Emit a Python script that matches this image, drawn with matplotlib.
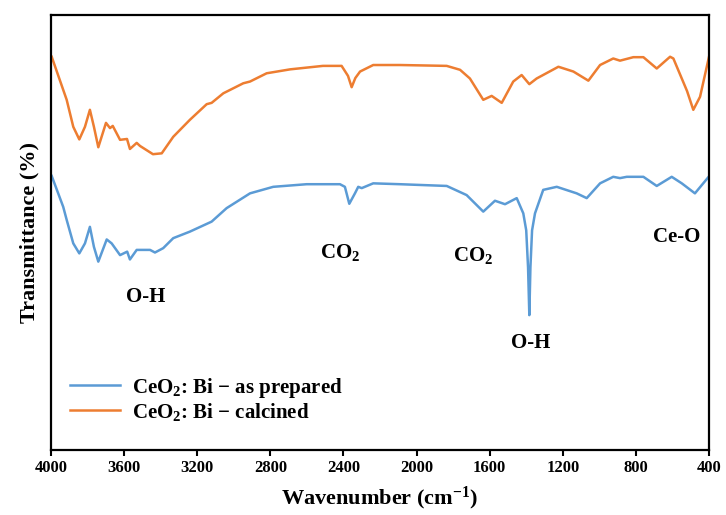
import matplotlib
matplotlib.use("Agg")
import matplotlib.pyplot as plt

plt.rcParams["font.family"] = ["Liberation Serif", "DejaVu Serif"]
plt.rcParams["font.weight"] = "bold"
plt.rcParams["mathtext.fontset"] = "custom"
plt.rcParams["mathtext.rm"] = "Liberation Serif:bold"
plt.rcParams["mathtext.bf"] = "Liberation Serif:bold"
plt.rcParams["mathtext.default"] = "bf"

# FTIR spectra (wavenumber in cm^-1, transmittance in arbitrary offset units)
wn_calcined = [3996, 3914, 3878, 3845, 3814, 3787, 3765, 3741, 3699, 3677,
               3662, 3622, 3584, 3568, 3531, 3513, 3442, 3394, 3331, 3240,
               3148, 3121, 3057, 2948, 2911, 2820, 2692, 2512, 2410, 2375,
               2355, 2335, 2309, 2237, 2091, 1835, 1762, 1708, 1635, 1589,
               1534, 1471, 1425, 1383, 1343, 1224, 1142, 1060, 996, 924,
               887, 814, 759, 686, 613, 595, 520, 486, 449, 400]
t_calcined = [90.4, 80.5, 74.3, 71.4, 74.3, 78.2, 74.3, 69.6, 75.2, 74.0,
              74.5, 71.3, 71.5, 69.2, 70.6, 69.9, 68.0, 68.2, 72.0, 75.9,
              79.5, 79.8, 82.0, 84.3, 84.7, 86.6, 87.5, 88.3, 88.3, 86.0,
              83.4, 85.5, 87.0, 88.5, 88.5, 88.3, 87.4, 85.4, 80.5, 81.4,
              79.8, 84.7, 86.2, 84.1, 85.4, 88.1, 87.0, 84.9, 88.5, 90.0,
              89.5, 90.3, 90.3, 87.7, 90.4, 90.0, 82.5, 78.2, 81.2, 90.4]

wn_prepared = [3996, 3933, 3914, 3878, 3845, 3814, 3787, 3765, 3741, 3695,
               3668, 3622, 3583, 3568, 3531, 3458, 3431, 3386, 3331, 3240,
               3121, 3039, 2911, 2784, 2601, 2419, 2392, 2368, 2337, 2319,
               2300, 2237, 2091, 1835, 1726, 1635, 1571, 1516, 1452, 1416,
               1400, 1390, 1383, 1377, 1368, 1352, 1307, 1233, 1124, 1069,
               996, 924, 887, 850, 759, 686, 604, 549, 477, 404]
t_prepared = [63.0, 55.9, 52.9, 47.5, 45.2, 47.5, 51.3, 46.7, 43.3, 48.4,
              47.5, 44.8, 45.6, 43.8, 46.0, 46.0, 45.4, 46.4, 48.7, 50.2,
              52.5, 55.6, 59.0, 60.5, 61.1, 61.1, 60.5, 56.6, 59.0, 60.5,
              60.2, 61.3, 61.1, 60.7, 58.6, 54.8, 57.3, 56.5, 57.9, 54.4,
              50.5, 42.0, 31.0, 42.0, 50.5, 54.4, 59.8, 60.5, 59.0, 57.9,
              61.3, 62.8, 62.5, 62.8, 62.8, 60.7, 62.8, 61.3, 59.0, 62.7]

# band labels: (text, wavenumber, transmittance)
band_labels = [("O-H", 3480, 35.2), ("CO$_2$", 2419, 45.3), ("CO$_2$", 1691, 44.8),
               ("O-H", 1374, 24.6), ("Ce-O", 575, 49.0)]

xticks = [4000, 3600, 3200, 2800, 2400, 2000, 1600, 1200, 800, 400]

fig = plt.figure(figsize=(7.26, 5.15), dpi=100)
ax = fig.add_axes([0.0702, 0.1262, 0.9064, 0.8447])

ax.plot(wn_prepared, t_prepared, color="#5B9BD5", lw=1.8, solid_joinstyle="round",
        label="CeO$_2$: Bi $-$ as prepared")
ax.plot(wn_calcined, t_calcined, color="#ED7D31", lw=1.8, solid_joinstyle="round",
        label="CeO$_2$: Bi $-$ calcined")

for txt, x, y in band_labels:
    ax.text(x, y, txt, ha="center", va="center", fontsize=15, fontweight="bold")

ax.set_xlim(4000, 400)
ax.set_ylim(0, 100)
ax.set_xticks(xticks)
ax.set_yticks([])
ax.tick_params(axis="x", direction="out", length=4, width=1.5, labelsize=12)
for lbl in ax.get_xticklabels():
    lbl.set_fontweight("bold")
for sp in ax.spines.values():
    sp.set_linewidth(1.6)

ax.set_xlabel("Wavenumber (cm$^{-1}$)", fontsize=16, fontweight="bold", labelpad=6)
ax.set_ylabel("Transmittance (%)", fontsize=16, fontweight="bold", labelpad=8)

ax.legend(loc="upper left", bbox_to_anchor=(0.0, 0.214), frameon=False,
          fontsize=15, handlelength=2.4, handletextpad=0.6, labelspacing=0.05)

fig.savefig("out.png", dpi=100)
